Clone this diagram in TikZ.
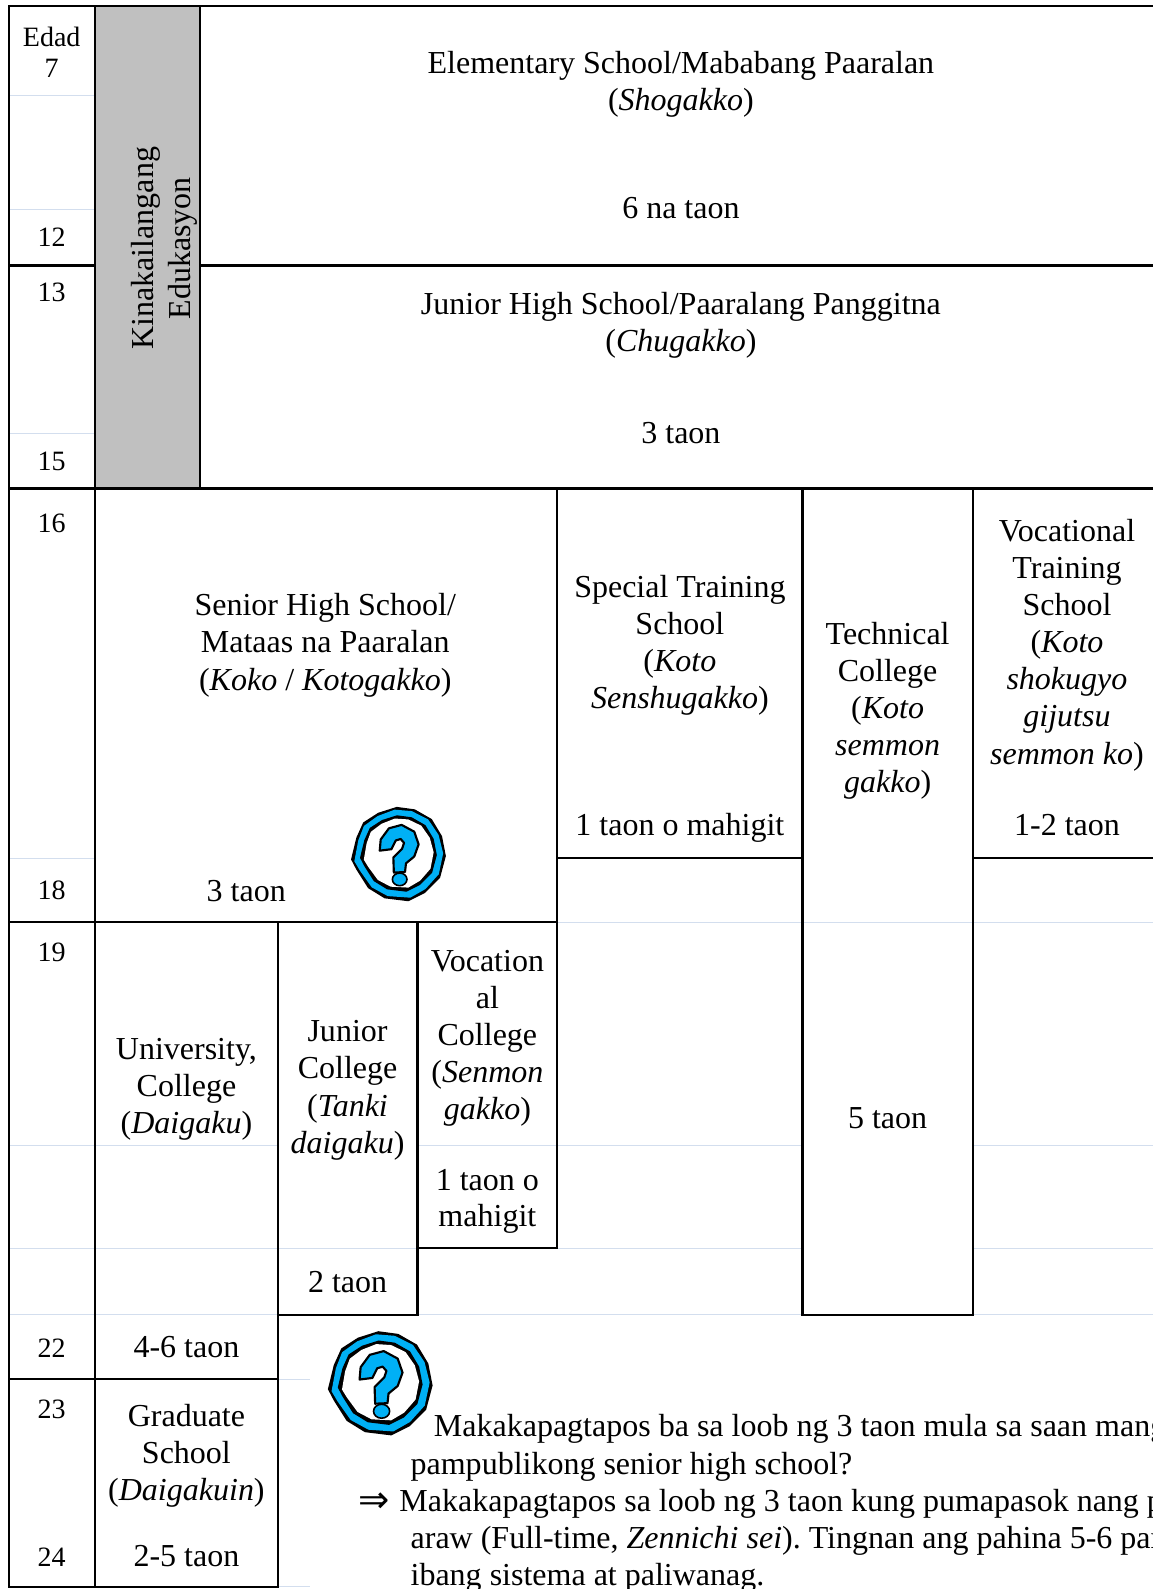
\documentclass[tikz,border=0pt]{standalone}
\usepackage{fontspec}
\setmainfont{Liberation Serif}
\newfontfamily\arrowfont{DejaVu Sans}
\frenchspacing
\tikzset{
  x=0.7599pt,y=-0.7599pt,
  grid/.style={line width=1.7pt,black,line cap=rect},
  pale/.style={line width=0.7pt,color=paleblue},
  agetxt/.style={anchor=base,inner sep=0pt,align=center,font=\fontsize{21}{23}\selectfont},
  cell/.style={anchor=base,inner sep=0pt,align=center,font=\fontsize{24}{27.8}\selectfont},
  lefttxt/.style={anchor=base west,inner sep=0pt,font=\fontsize{24}{27.8}\selectfont},
}
\definecolor{paleblue}{HTML}{D3DEEE}
\definecolor{greyband}{HTML}{C0C0C0}
\definecolor{qblue}{HTML}{00B0F5}
\newcommand{\qpoly}{(-.03,-.91)--(.34,-.86)--(.69,-.66)--(.90,-.31)--(.98,.10)--(.86,.55)--(.55,.86)--(.21,1.03)--(-.28,.97)--(-.62,.76)--(-.86,.38)--(-.97,.17)--(-.86,-.28)--(-.72,-.59)--(-.41,-.79)--cycle}
\newcommand{\qicon}[3]{%
  \begin{scope}[shift={(#1,#2)},scale=#3]
    \fill[black] \qpoly;
    \begin{scope}[scale=.94,rotate=3]\fill[qblue] \qpoly;\end{scope}
    \begin{scope}[scale=.81]\fill[black] \qpoly;\end{scope}
    \begin{scope}[scale=.74,rotate=4]\fill[white] \qpoly;\end{scope}
    \filldraw[fill=qblue,draw=black,line width=1.6pt,line join=round]
      (-.38,-.01)--(-.36,-.24)--(-.19,-.47)--(.07,-.54)--(.33,-.40)--(.42,-.14)--(.33,.11)--(.16,.25)--(.14,.43)--(-.09,.44)--(-.10,.13)--(.08,-.05)--(.12,-.17)--(.05,-.25)--(-.05,-.22)--(-.14,-.04)--cycle;
    \filldraw[fill=qblue,draw=black,line width=1.2pt] (.03,.58) ellipse [x radius=.15,y radius=.13];
  \end{scope}}
\begin{document}
\begin{tikzpicture}
\useasboundingbox (0,0) rectangle (1137.9,1568.2);
\fill[white] (0,0) rectangle (1137.9,1568.2);
% grey band
\fill[greyband] (94,6) rectangle (197.4,482);
% pale rules
\draw[pale] (9,94)--(94,94) (9,207)--(94,207) (9,428)--(94,428) (9,847)--(94,847);
\draw[pale] (550,910)--(1138,910);
\draw[pale] (9,1130)--(274,1130) (412,1130)--(792,1130) (960,1130)--(1138,1130);
\draw[pale] (9,1232)--(792,1232) (960,1232)--(1138,1232);
\draw[pale] (9,1297)--(274,1297) (412,1297)--(792,1297) (960,1297)--(1138,1297);
\draw[pale] (274,1361)--(306,1361) (274,1566)--(306,1566);
% black grid
\draw[grid] (9,6)--(1145,6) (9,6)--(9,1566) (94,6)--(94,1566) (197.4,6)--(197.4,482);
\draw[grid] (9,262)--(94,262) (197.4,262)--(1145,262) (9,482)--(1145,482) (9,910)--(550,910);
\draw[grid] (550,482)--(550,1232) (412,1232)--(550,1232) (412,910)--(412,1297);
\draw[grid] (274,910)--(274,1566) (274,1297.5)--(412,1297.5);
\draw[grid] (550,847)--(792,847) (960,847)--(1145,847);
\draw[grid] (792,482)--(792,1297.5)--(960,1297.5)--(960,482);
\draw[grid] (9,1361)--(274,1361) (9,1566)--(274,1566);
% ages
\node[agetxt] (aEdad) at (51,76) {Edad\\7};
\node[agetxt] (a12) at (51,243) {12};
\node[agetxt] (a13) at (51,298) {13};
\node[agetxt] (a15) at (51,464) {15};
\node[agetxt] (a16) at (51,526) {16};
\node[agetxt] (a18) at (51,888) {18};
\node[agetxt] (a19) at (51,949) {19};
\node[agetxt] (a22) at (51,1340) {22};
\node[agetxt] (a23) at (51,1400) {23};
\node[agetxt] (a24) at (51,1546) {24};
% vertical band text
\node[cell,rotate=90,anchor=base] (band) at (188,245) {Kinakailangang\\Edukasyon};
% schools
\node[cell] (elem) at (672,109) {Elementary School/Mababang Paaralan\\(\textit{Shogakko})};
\node[cell] (elemy) at (672,216) {6 na taon};
\node[cell] (jhs) at (672,347) {Junior High School/Paaralang Panggitna\\(\textit{Chugakko})};
\node[cell] (jhsy) at (672,438) {3 taon};
\node[cell] (shs) at (321,681) {Senior High School/\\Mataas na Paaralan\\(\textit{Koko} / \textit{Kotogakko})};
\node[cell] (shsy) at (243,890) {3 taon};
\node[cell] (spec) at (671,699) {Special Training\\School\\(\textit{Koto}\\\textit{Senshugakko})};
\node[cell] (specy) at (671,825) {1 taon o mahigit};
\node[cell] (tech) at (876,782) {Technical\\College\\(\textit{Koto}\\\textit{semmon}\\\textit{gakko})};
\node[cell] (techy) at (876,1114) {5 taon};
\node[cell] (voc) at (1053,754) {Vocational\\Training\\School\\(\textit{Koto}\\\textit{shokugyo}\\\textit{gijutsu}\\\textit{semmon ko})};
\node[cell] (vocy) at (1053,825) {1-2 taon};
\node[cell] (univ) at (184,1119) {University,\\College\\(\textit{Daigaku})};
\node[cell] (univy) at (184,1340) {4-6 taon};
\node[cell] (jc) at (343,1138) {Junior\\College\\(\textit{Tanki}\\\textit{daigaku})};
\node[cell] (jcy) at (343,1276) {2 taon};
\node[cell] (vc) at (481,1105) {Vocation\\al\\College\\(\textit{Senmon}\\\textit{gakko})};
\node[cell,font=\fontsize{24}{27}\selectfont] (vcy) at (481,1210) {1 taon o\\mahigit};
\node[cell] (grad) at (184,1481) {Graduate\\School\\(\textit{Daigakuin})};
\node[cell] (grady) at (184,1546) {2-5 taon};
% icons
\qicon{393}{840}{48}
\qicon{375}{1362}{53}
% question text
\node[lefttxt] (q1) at (428,1418) {Makakapagtapos ba sa loob ng 3 taon mula sa saan mang};
\node[lefttxt] (q2) at (405,1455) {pampublikong senior high school?};
\node[lefttxt,font=\arrowfont\fontsize{28}{30}\selectfont] (arr) at (354,1493) {⇒};
\node[lefttxt] (a1) at (394,1492) {Makakapagtapos sa loob ng 3 taon kung pumapasok nang p};
\node[lefttxt] (a2) at (405,1528) {araw (Full-time, \textit{Zennichi sei}). Tingnan ang pahina 5-6 par};
\node[lefttxt] (a3) at (405,1565) {ibang sistema at paliwanag.};
\end{tikzpicture}
\end{document}
